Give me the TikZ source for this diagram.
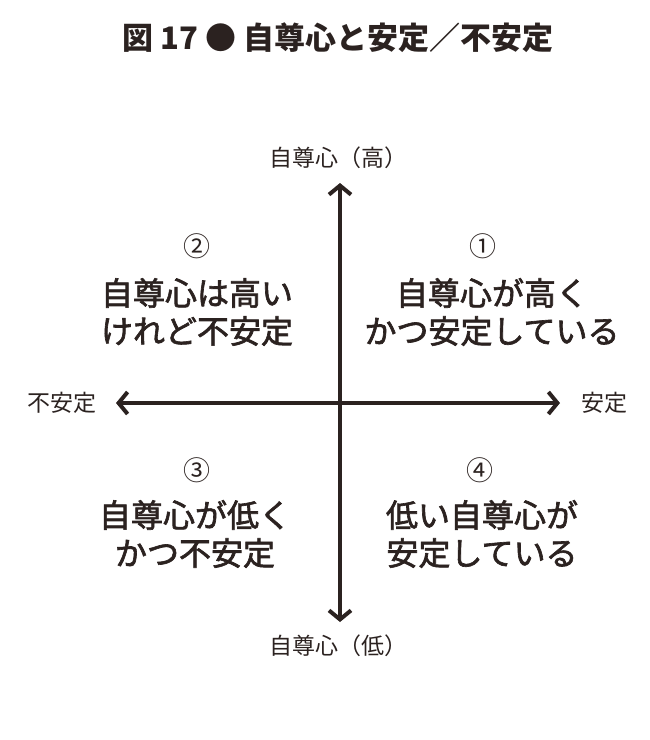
\documentclass[tikz,border=0pt]{standalone}
\usepackage{fontspec}
\newfontfamily\jp{Noto Sans CJK JP}
\newfontfamily\jpm[FakeBold=2]{Noto Sans CJK JP}
\usetikzlibrary{arrows.meta}
\definecolor{ink}{HTML}{2B2220}
\tikzset{
 axis/.style={ink,line width=4pt,-{Straight Barb[length=9pt,width=22pt,line width=4pt]}},
 lab/.style={font=\jp\fontsize{23pt}{26pt}\selectfont,text=ink},
 quad/.style={font=\jpm\fontsize{32pt}{38pt}\selectfont,text=ink,align=center},
 num/.style={font=\jp\fontsize{27pt}{29pt}\selectfont,text=ink}
}
\begin{document}
\begin{tikzpicture}[x=1pt,y=-1pt]
\useasboundingbox (0,0) rectangle (650,740);
\node[font=\jp\bfseries\fontsize{31pt}{33pt}\selectfont,text=ink] (title) at (338,38) {図 17 ● 自尊心と安定／不安定};
\coordinate (c) at (340,403);
\coordinate (top) at (340,183);
\coordinate (bot) at (340,622);
\coordinate (left) at (116,403);
\coordinate (right) at (560,403);
\draw[axis] (c) -- (top);
\draw[axis] (c) -- (bot);
\draw[axis] (c) -- (left);
\draw[axis] (c) -- (right);
\node[lab] (hi) at (338,158) {自尊心（高）};
\node[lab] (lo) at (338,646) {自尊心（低）};
\node[lab] (unst) at (62,403) {不安定};
\node[lab] (st) at (604,403) {安定};
\node[num] (n1) at (483,246) {①};
\node[num] (n2) at (197,246) {②};
\node[num] (n3) at (197,470) {③};
\node[num] (n4) at (480,470) {④};
\node[quad] (q1) at (492,312) {自尊心が高く\\かつ安定している};
\node[quad] (q2) at (197,312) {自尊心は高い\\けれど不安定};
\node[quad] (q3) at (195,534) {自尊心が低く\\かつ不安定};
\node[quad] (q4) at (482,534) {低い自尊心が\\安定している};
\end{tikzpicture}
\end{document}
